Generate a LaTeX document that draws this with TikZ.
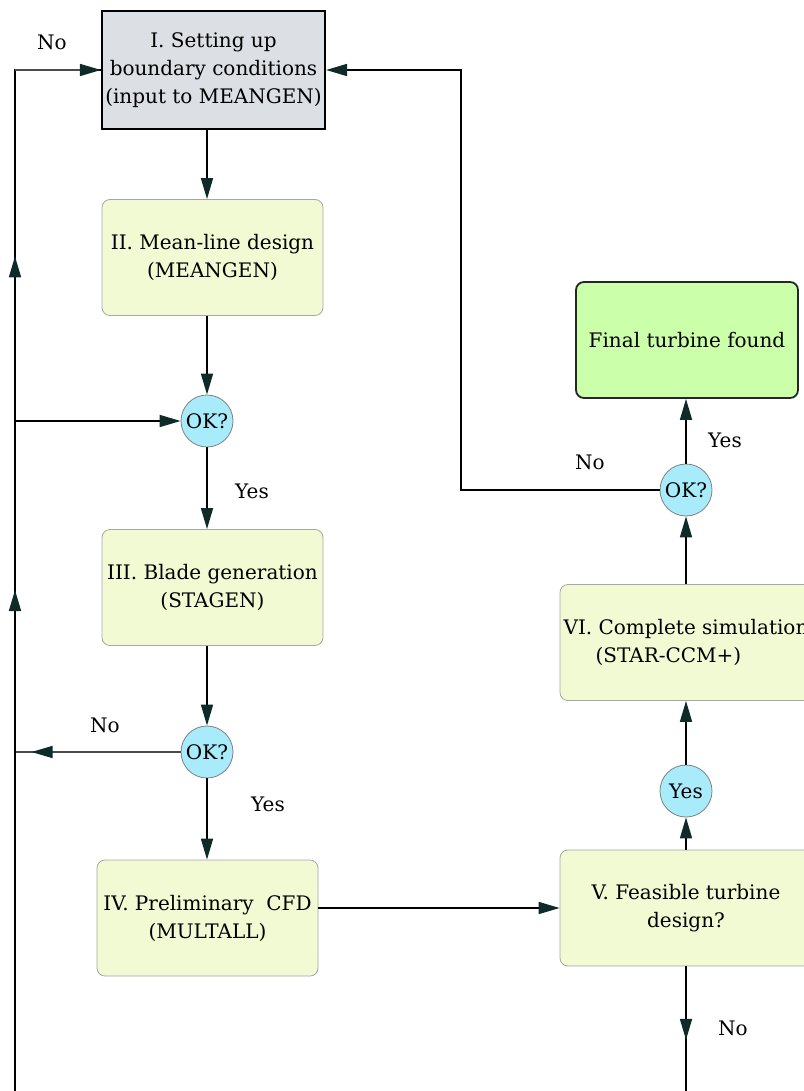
\documentclass[tikz,border=0pt]{standalone}
\usepackage{fontspec}
\setmainfont{DejaVu Serif}
\usetikzlibrary{arrows.meta,decorations.markings}

\definecolor{boxfill}{HTML}{F1FAD3}
\definecolor{setfill}{HTML}{DCDFE3}
\definecolor{endfill}{HTML}{CCFFAA}
\definecolor{okfill}{HTML}{A8ECFB}
\definecolor{tipcol}{HTML}{0E2B27}
\newcommand{\lbl}{\fontsize{20}{28}\selectfont}

\begin{document}
\begin{tikzpicture}[x=1pt, y=-1pt,
    box/.style={rectangle, rounded corners=8pt, draw=gray!70, line width=0.8pt, fill=boxfill,
      minimum width=221pt, minimum height=116pt, align=center, font=\lbl},
    okc/.style={circle, draw=gray, line width=0.8pt, fill=okfill, minimum size=52pt, inner sep=0pt, font=\lbl},
    lab/.style={font=\lbl, inner sep=0pt},
    arr/.style={-{Triangle[length=21pt,width=12pt,color=tipcol]}, line width=1.6pt},
    midarr/.style={line width=1.6pt, decoration={markings,
      mark=at position #1 with {\arrow{Triangle[length=21pt,width=12pt,color=tipcol]}}},
      postaction={decorate}}]
    \useasboundingbox (0,0) rectangle (803,1091);

    \node[box, rounded corners=0pt, draw=black, line width=2pt, fill=setfill, minimum width=223pt, minimum height=118pt]
      (set) at (213.5, 70) {I. Setting up\\boundary conditions\\(input to MEANGEN)};
    \node[box] (mean) at (212.5, 257.5) {II. Mean-line design\\(MEANGEN)};
    \node[okc] (ok1) at (207, 421) {OK?};
    \node[box] (blade) at (212.5, 587.5) {III. Blade generation\\(STAGEN)};
    \node[okc] (ok2) at (207, 752) {OK?};
    \node[box] (cfd) at (207.5, 918) {IV. Preliminary\ \ CFD\\(MULTALL)};
    \node[box, minimum width=252pt] (feas) at (686, 908) {V. Feasible turbine\\design?};
    \node[okc] (yes) at (686, 791) {Yes};
    \node[box, minimum width=252pt, align=left] (sim) at (686, 642.5) {VI. Complete simulation\\\hspace*{32pt}(STAR-CCM+)};
    \node[okc] (ok3) at (686, 490) {OK?};
    \node[box, draw=black!85, line width=1.8pt, fill=endfill, minimum width=222pt] (final) at (687, 340) {Final turbine found};

    % labels
    \node[lab] (no1) at (52, 42) {No};
    \node[lab] (yes1) at (252, 491) {Yes};
    \node[lab] (no2) at (105, 725) {No};
    \node[lab] (yes2) at (268, 804) {Yes};
    \node[lab] (no3) at (733, 1028) {No};
    \node[lab] (yes3) at (725, 440) {Yes};
    \node[lab] (no4) at (590, 462) {No};

    \coordinate (lb) at (15, 1100);
    \coordinate (lj) at (15, 421);
    \coordinate (lk) at (15, 752);
    \coordinate (back) at (461, 490);
    \coordinate (vb) at (686, 1100);

    \draw[arr] (set.south -| ok1) -- (mean.north -| ok1);
    \draw[arr] (mean.south -| ok1) -- (ok1);
    \draw[arr] (ok1) -- (blade.north -| ok1);
    \draw[arr] (blade.south -| ok1) -- (ok2);
    \draw[arr] (ok2) -- (cfd.north -| ok2);
    \draw[arr] (cfd.east |- feas) -- (feas);
    \draw[arr] (feas) -- (yes);
    \draw[arr] (yes) -- (sim);
    \draw[arr] (sim) -- (ok3);
    \draw[arr] (ok3) -- (final.south -| ok3);
    \draw[arr] (ok3) -- (back) |- (set.east);
    \draw[midarr=0.55] (feas) -- (vb);
    \draw[arr] (lj) -- (ok1);
    \draw[midarr=0.9, draw=black!70] (ok2) -- (lk);
    \draw[line width=1.6pt, decoration={markings,
      mark=at position 0.457 with {\arrow{Triangle[length=21pt,width=12pt,color=tipcol]}},
      mark=at position 0.756 with {\arrow{Triangle[length=21pt,width=12pt,color=tipcol]}}},
      postaction={decorate}] (lb) |- (set.west);
    \draw[arr, draw=black!70] (15, 70) -- (set.west);
\end{tikzpicture}
\end{document}
